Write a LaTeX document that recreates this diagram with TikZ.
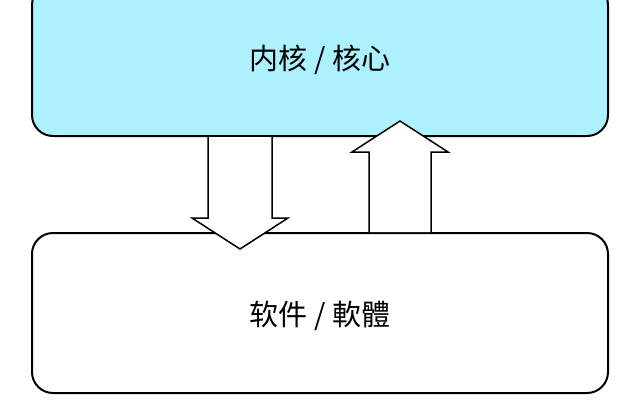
\documentclass[tikz,border=0pt]{standalone}
\usepackage{fontspec}
\newfontfamily\cjk{Noto Sans CJK SC}
\definecolor{kernelblue}{RGB}{173,241,255}
\begin{document}
\begin{tikzpicture}[x=1pt,y=-1pt]
  \tikzset{ layer/.style={draw, line width=2pt, rounded corners=21pt, minimum width=576pt, font=\cjk\fontsize{29}{32}\selectfont},
            fat/.style={draw, fill=white, line width=1.5pt, line join=miter} };
  \useasboundingbox (0,0) rectangle (640,400);
  \clip (0,0) rectangle (640,400);
  \node[layer, fill=kernelblue, minimum height=152pt] (kernel) at (320,60) {内核 / 核心};
  \node[layer, fill=white, minimum height=160pt] (soft) at (320,313) {\raisebox{-3pt}[\height][\depth]{软件 / 軟體}};
  % down: kernel -> software
  \draw[fat] (kernel.south -| 240,0) ++(-32,0) -- ++(0,81) -- ++(-16,0) -- ++(48,31) -- ++(48,-31) -- ++(-16,0) -- ++(0,-81);
  % up: software -> kernel
  \draw[fat] (soft.north -| 400,0) ++(-31,0) -- ++(0,-80) -- ++(-17,0) -- ++(48,-31) -- ++(48,31) -- ++(-17,0) -- ++(0,80);
\end{tikzpicture}
\end{document}
